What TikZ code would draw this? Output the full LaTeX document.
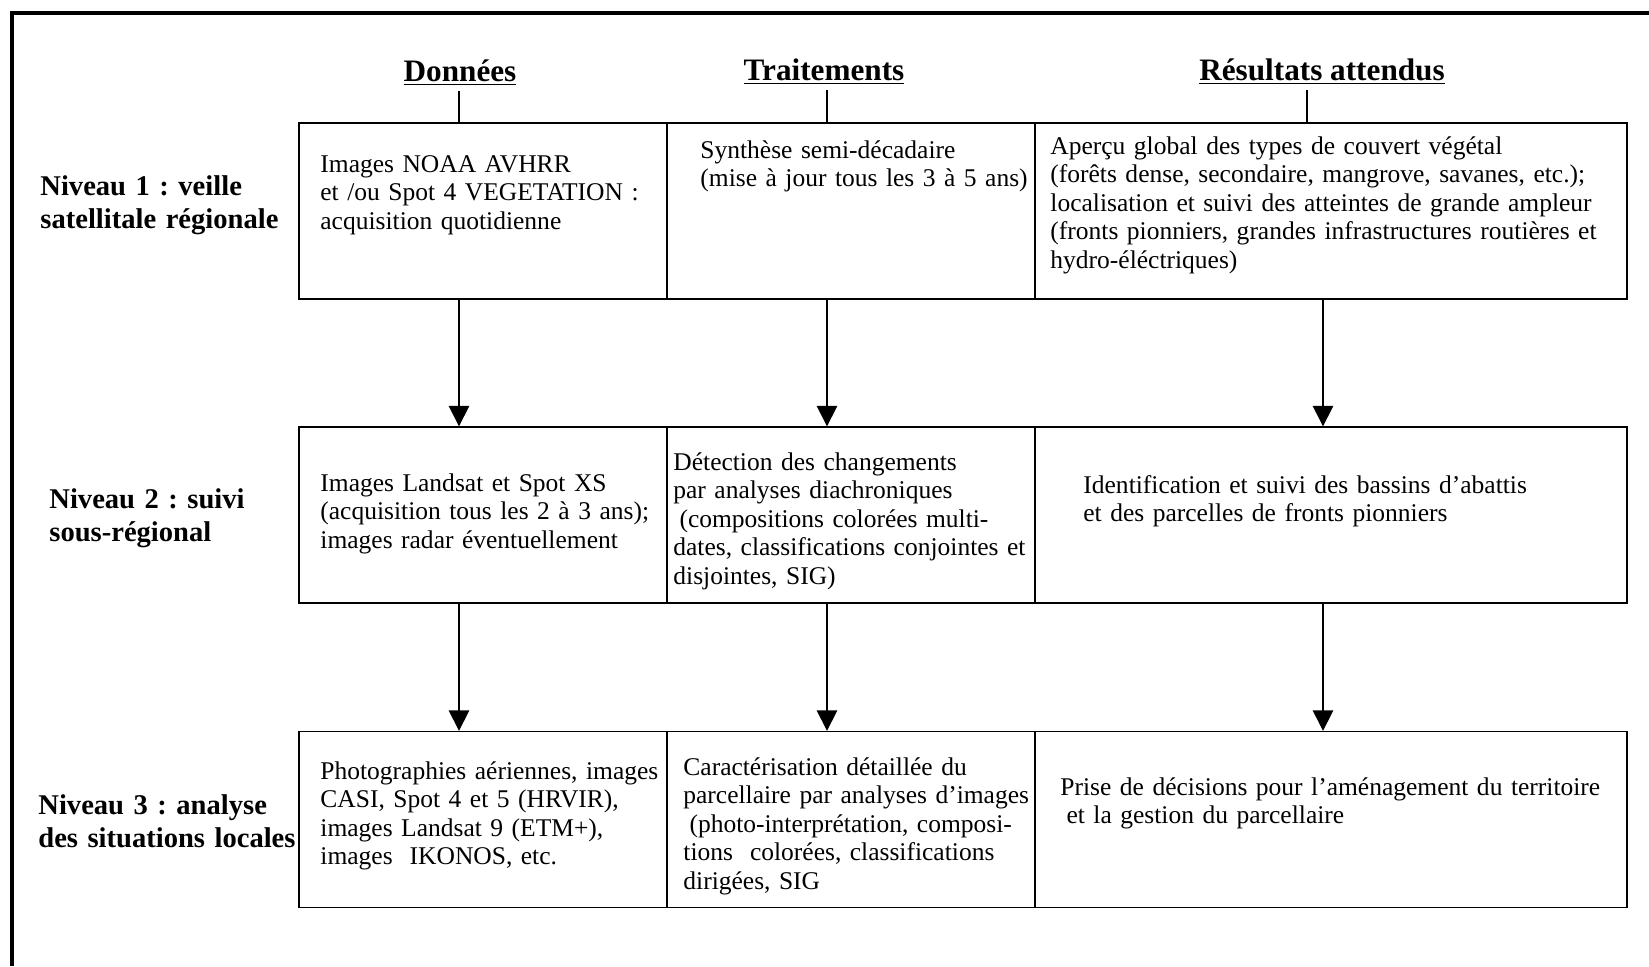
\documentclass[tikz,border=0pt]{standalone}
\usepackage{fontspec}
\setmainfont{Liberation Serif}
\frenchspacing
\usetikzlibrary{arrows.meta}

\tikzset{
  cell/.style={draw, line width=0.7pt, inner sep=0pt, minimum height=86.2pt},
  txt/.style={anchor=base west, inner sep=0pt, text width=300pt, align=left,
    font=\fontsize{12.5}{14}\selectfont},
  lvl/.style={anchor=base west, inner sep=0pt, text width=150pt, align=left,
    font=\fontsize{14}{16.3}\selectfont\bfseries},
  hdr/.style={anchor=base, inner sep=2.7pt, font=\fontsize{15.3}{16}\selectfont\bfseries},
  arr/.style={-{Triangle[width=10pt,length=10pt]}, line width=0.6pt},
}

\begin{document}
\begin{tikzpicture}[x=0.49pt, y=-0.49pt]
    \useasboundingbox (0,0) rectangle (1649,966);
    \draw[line width=2pt] (12,966) -- (12,13) -- (1649,13);

    % column headers
    \node[hdr] (hd) at (460,81) {\underline{Données}};
    \node[hdr] (ht) at (824,80) {\underline{Traitements}};
    \node[hdr] (hr) at (1322,80) {\underline{Résultats attendus}};

    \coordinate (xd) at (459,0);
    \coordinate (xt) at (827,0);
    \coordinate (xr) at (1323,0);
    \coordinate (xrt) at (1307,0);

    % cells
    \foreach \r/\y in {1/211,2/515,3/819.5} {
        \node[cell, minimum width=180.3pt] (r\r d) at (483,\y) {};
        \node[cell, minimum width=180.3pt] (r\r t) at (851,\y) {};
        \node[cell, minimum width=290.1pt] (r\r r) at (1331,\y) {};
      }

    \draw[line width=0.6pt] (xd |- hd.south) -- (xd |- r1d.north);
    \draw[line width=0.6pt] (xt |- ht.south) -- (xt |- r1t.north);
    \draw[line width=0.6pt] (xrt |- hr.south) -- (xrt |- r1r.north);

    \foreach \a/\b in {1/2,2/3} {
        \draw[arr] (xd |- r\a d.south) -- (xd |- r\b d.north);
        \draw[arr] (xt |- r\a t.south) -- (xt |- r\b t.north);
        \draw[arr] (xr |- r\a r.south) -- (xr |- r\b r.north);
      }

    % niveau 1
    \node[lvl] (lv1) at (40,195) {Niveau 1 : veille\\satellitale régionale};
    \node[txt] (t1d) at (320,172) {Images NOAA AVHRR\\et /ou Spot 4 VEGETATION :\\acquisition quotidienne};
    \node[txt] (t1t) at (700,158) {Synthèse semi-décadaire\\(mise à jour tous les 3 à 5 ans)};
    \node[txt] (t1r) at (1050,154) {Aperçu global des types de couvert végétal\\(forêts dense, secondaire, mangrove, savanes, etc.);\\localisation et suivi des atteintes de grande ampleur\\(fronts pionniers, grandes infrastructures routières et\\hydro-éléctriques)};

    % niveau 2
    \node[lvl] (lv2) at (49,508) {Niveau 2 : suivi\\sous-régional};
    \node[txt] (t2d) at (320,491) {Images Landsat et Spot XS\\(acquisition tous les 2 à 3 ans);\\images radar éventuellement};
    \node[txt] (t2t) at (673,470) {Détection des changements\\par analyses diachroniques\\\hspace*{3pt}(compositions colorées multi-\\dates, classifications conjointes et\\disjointes, SIG)};
    \node[txt] (t2r) at (1083,493) {Identification et suivi des bassins d’abattis\\et des parcelles de fronts pionniers};

    % niveau 3
    \node[lvl] (lv3) at (38,814) {Niveau 3 : analyse\\des situations locales};
    \node[txt] (t3d) at (320,779) {Photographies aériennes, images\\CASI, Spot 4 et 5 (HRVIR),\\images Landsat 9 (ETM+),\\images\ \ IKONOS, etc.};
    \node[txt] (t3t) at (683,775) {Caractérisation détaillée du\\parcellaire par analyses d’images\\\hspace*{3pt}(photo-interprétation, composi-\\tions\ \ colorées, classifications\\dirigées, SIG};
    \node[txt] (t3r) at (1060,795) {Prise de décisions pour l’aménagement du territoire\\\hspace*{3pt}et la gestion du parcellaire};
  \end{tikzpicture}
\end{document}
